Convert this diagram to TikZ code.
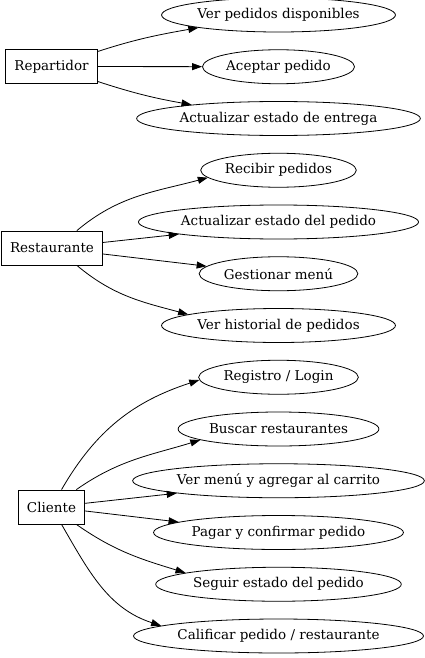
\documentclass[tikz,border=0pt]{standalone}
\usepackage{fontspec}
\setmainfont{DejaVu Serif}
\usetikzlibrary{shapes.geometric, arrows.meta}

\begin{document}
\begin{tikzpicture}[
  x = 1pt, y = 1pt,
  node distance = 51.75pt,
  line width = 0.8pt,
  font = \fontsize{13.5}{15}\selectfont,
  block_actor/.style={rectangle, draw, text centered, inner xsep = 8.5pt,
    minimum height = 34pt},
  block_case/.style={ellipse, draw, text centered, inner xsep = 1.5pt,
    minimum height = 34pt},
  line/.style={draw, -{Triangle[length=10pt, width=7pt]}}
  ]
\useasboundingbox (0,0) rectangle (425,-658);

\node [block_case] (ver_disp) at (278.5,-15) {Ver pedidos disponibles};
\node [block_case, below of=ver_disp] (aceptar) {Aceptar pedido};
\node [block_case, below of=aceptar] (act_entrega) {Actualizar estado de entrega};
\node [block_case, below of=act_entrega] (recibir) {Recibir pedidos};
\node [block_case, below of=recibir] (act_pedido) {Actualizar estado del pedido};
\node [block_case, below of=act_pedido] (gestionar) {Gestionar menú};
\node [block_case, below of=gestionar] (historial) {Ver historial de pedidos};
\node [block_case, below of=historial] (registro) {Registro / Login};
\node [block_case, below of=registro] (buscar) {Buscar restaurantes};
\node [block_case, below of=buscar] (ver_menu) {Ver menú y agregar al carrito};
\node [block_case, below of=ver_menu] (pagar) {Pagar y confirmar pedido};
\node [block_case, below of=pagar] (seguir) {Seguir estado del pedido};
\node [block_case, below of=seguir] (calificar) {Calificar pedido / restaurante};

\node [block_actor] (repartidor) at (51.5,-66.5) {Repartidor};
\node [block_actor] (restaurante) at (52,-248) {Restaurante};
\node [block_actor] (cliente) at (51.5,-507) {Cliente};

\path [line] (repartidor) to[out=18, in=190] (ver_disp.189);
\path [line] (repartidor) -- (aceptar);
\path [line] (repartidor) to[out=-18, in=170] (act_entrega.171);

\path [line] (restaurante.35) to[out=40, in=195] (recibir.186);
\path [line] (restaurante) -- (act_pedido.187);
\path [line] (restaurante) -- (gestionar.174);
\path [line] (restaurante.-35) to[out=-40, in=165] (historial.173);

\path [line] (cliente) to[out=60, in=198] (registro.182);
\path [line] (cliente) to[out=35, in=197] (buscar.188);
\path [line] (cliente) -- (ver_menu.187);
\path [line] (cliente) -- (pagar.174);
\path [line] (cliente) to[out=-35, in=163] (seguir.173);
\path [line] (cliente) to[out=-60, in=162] (calificar.175);
\end{tikzpicture}
\end{document}
